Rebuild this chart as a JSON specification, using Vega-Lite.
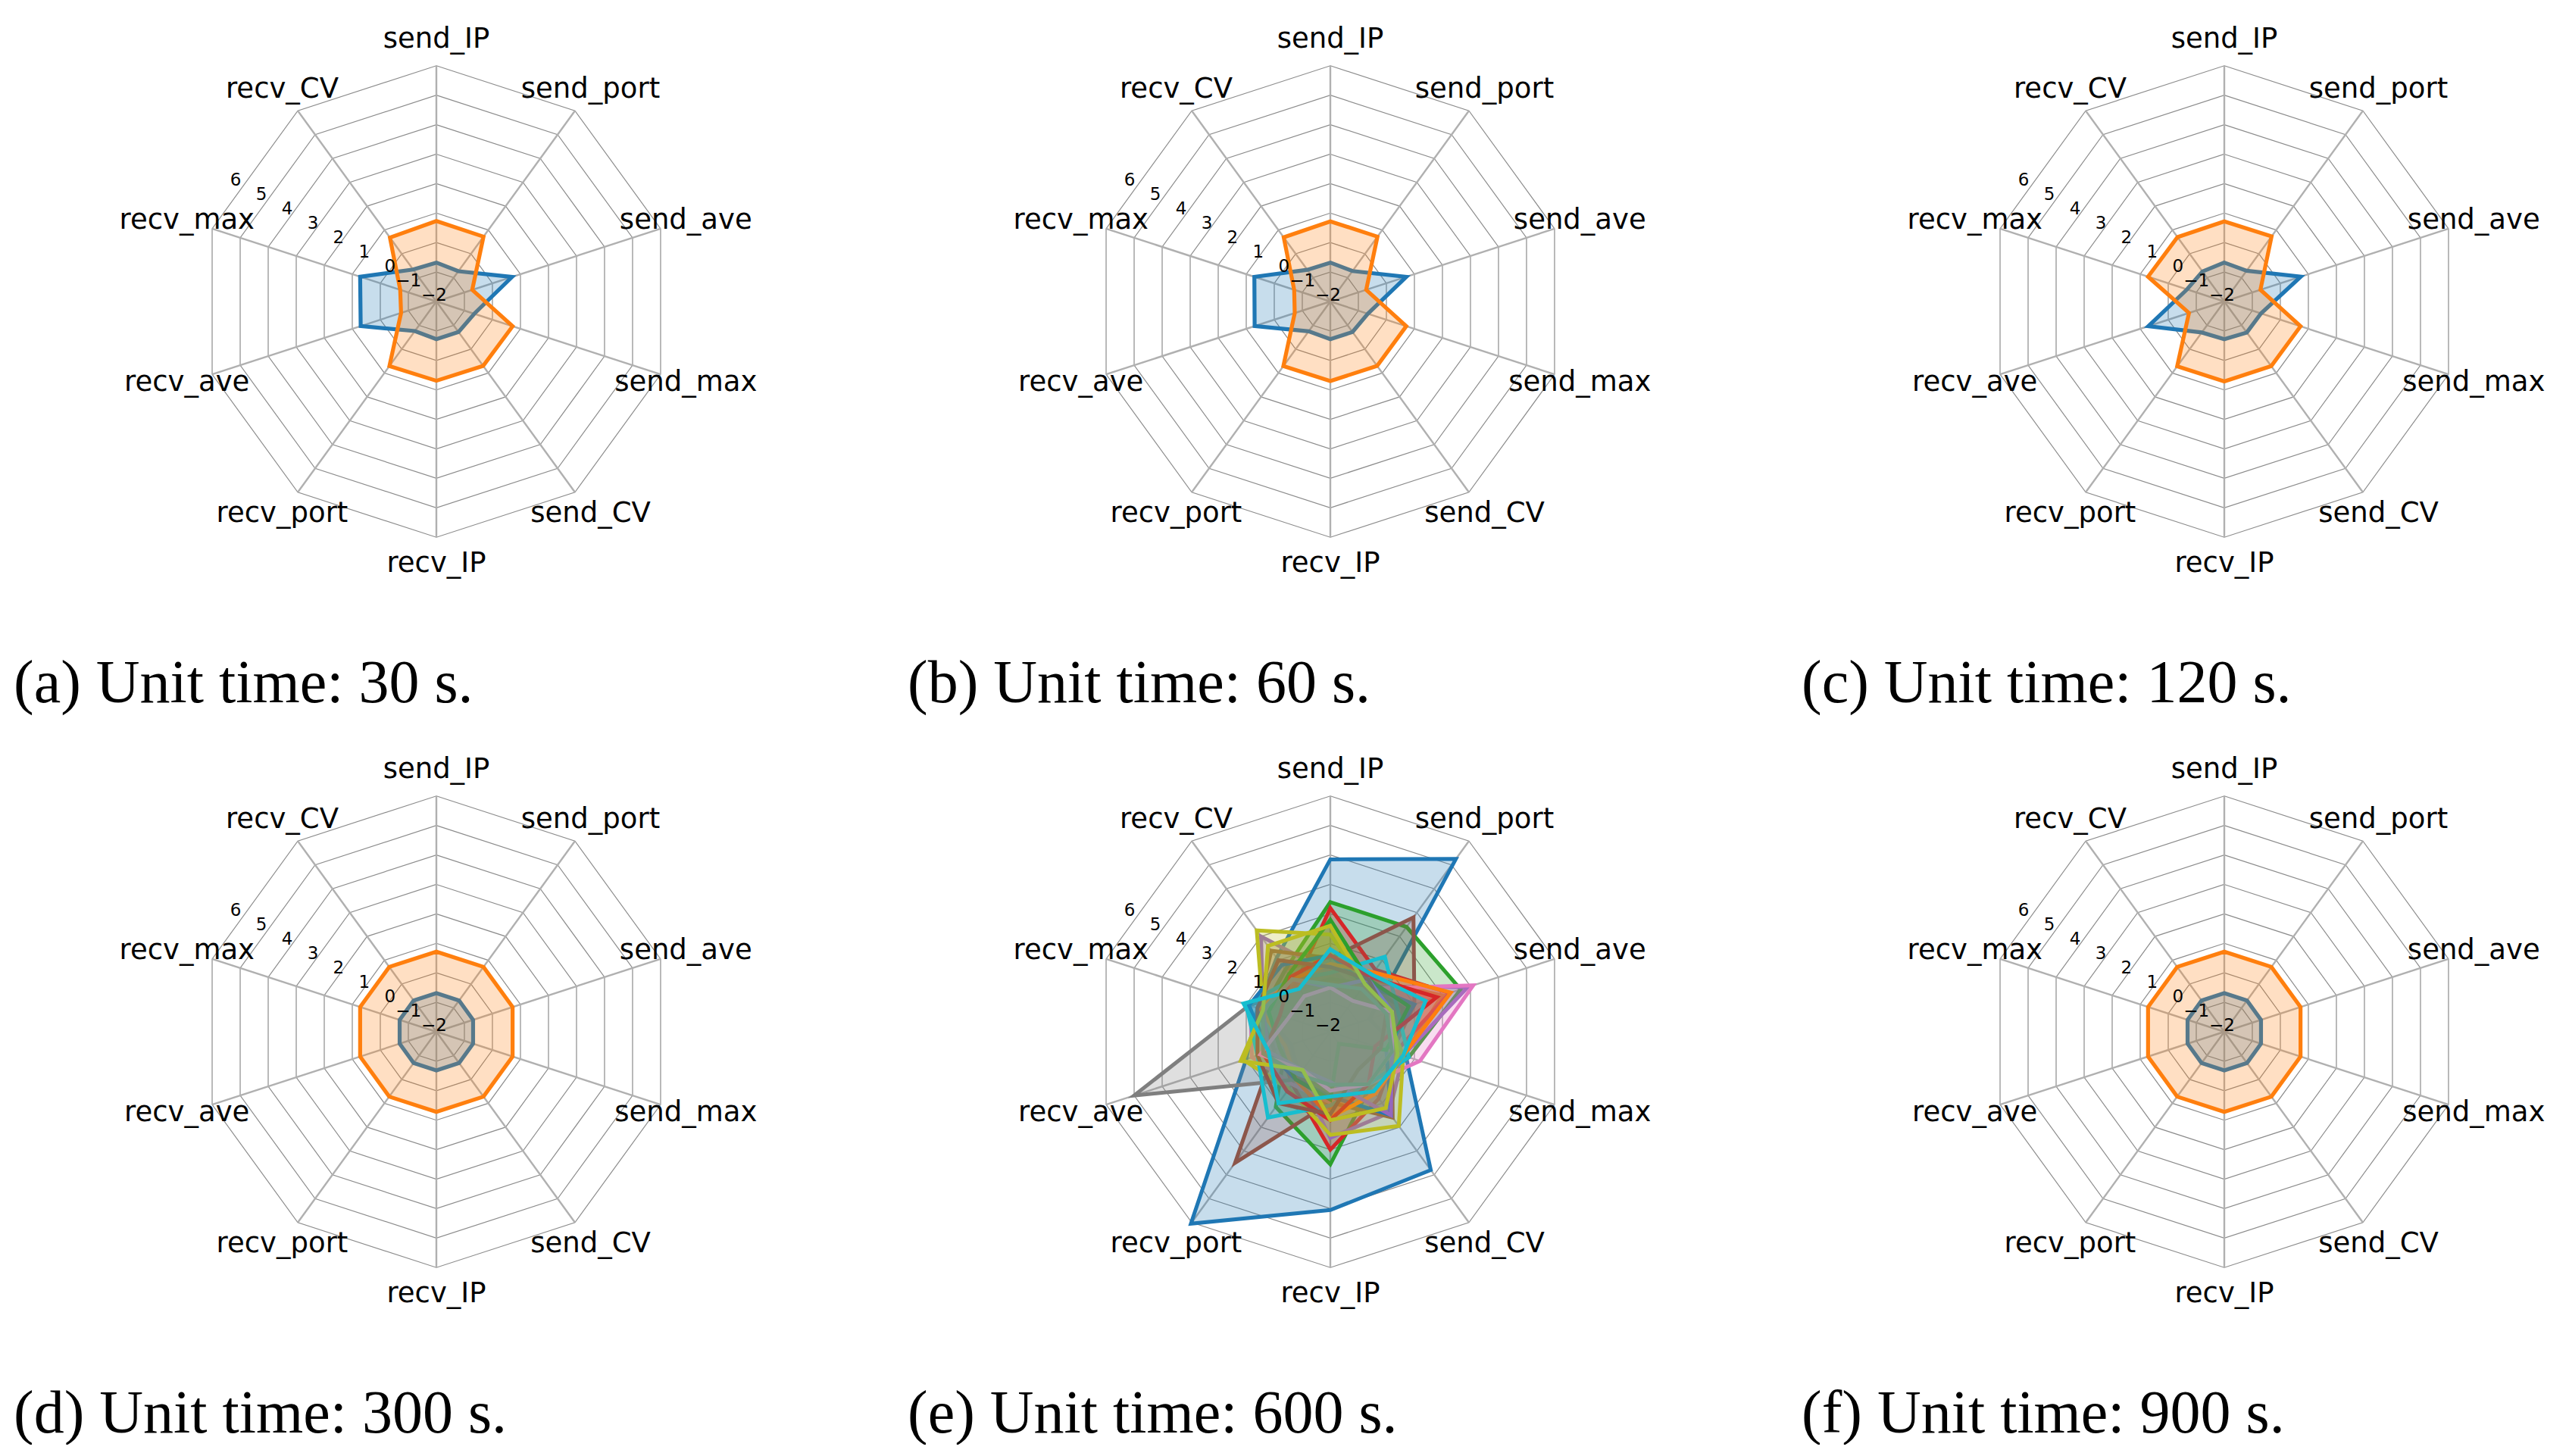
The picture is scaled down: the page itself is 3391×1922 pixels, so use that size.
{
"$schema": "https://vega.github.io/schema/vega-lite/v6.json",
"padding": 0,
"background": "white",
"config": {"view": {"stroke": null}},
"datasets": {
"axes": [
{"axis":"send_IP","lv":[-1,0,1,2,3,4,5,6]},
{"axis":"send_port","lv":[-1,0,1,2,3,4,5,6]},
{"axis":"send_ave","lv":[-1,0,1,2,3,4,5,6]},
{"axis":"send_max","lv":[-1,0,1,2,3,4,5,6]},
{"axis":"send_CV","lv":[-1,0,1,2,3,4,5,6]},
{"axis":"recv_IP","lv":[-1,0,1,2,3,4,5,6]},
{"axis":"recv_port","lv":[-1,0,1,2,3,4,5,6]},
{"axis":"recv_ave","lv":[-1,0,1,2,3,4,5,6]},
{"axis":"recv_max","lv":[-1,0,1,2,3,4,5,6]},
{"axis":"recv_CV","lv":[-1,0,1,2,3,4,5,6]}
],
"ticks": [
{"t":"−2","v":-2},{"t":"−1","v":-1},{"t":"0","v":0},{"t":"1","v":1},{"t":"2","v":2},{"t":"3","v":3},{"t":"4","v":4},{"t":"5","v":5},{"t":"6","v":6}
],
"polys": [
{"p":"a","s":0,"send_IP":-0.68,"send_port":-0.73,"send_ave":0.70,"send_max":-0.65,"send_CV":-0.72,"recv_IP":-0.72,"recv_port":-0.76,"recv_ave":0.70,"recv_max":0.72,"recv_CV":-0.66},
{"p":"a","s":1,"send_IP":0.73,"send_port":0.72,"send_ave":-0.72,"send_max":0.72,"send_CV":0.70,"recv_IP":0.69,"recv_port":0.71,"recv_ave":-0.74,"recv_max":-0.71,"recv_CV":0.68},
{"p":"b","s":0,"send_IP":-0.68,"send_port":-0.72,"send_ave":0.71,"send_max":-0.66,"send_CV":-0.72,"recv_IP":-0.72,"recv_port":-0.75,"recv_ave":0.70,"recv_max":0.71,"recv_CV":-0.67},
{"p":"b","s":1,"send_IP":0.72,"send_port":0.72,"send_ave":-0.72,"send_max":0.71,"send_CV":0.70,"recv_IP":0.70,"recv_port":0.71,"recv_ave":-0.73,"recv_max":-0.71,"recv_CV":0.69},
{"p":"c","s":0,"send_IP":-0.68,"send_port":-0.71,"send_ave":0.73,"send_max":-0.69,"send_CV":-0.70,"recv_IP":-0.72,"recv_port":-0.70,"recv_ave":0.71,"recv_max":-0.67,"recv_CV":-0.74},
{"p":"c","s":1,"send_IP":0.72,"send_port":0.73,"send_ave":-0.71,"send_max":0.72,"send_CV":0.71,"recv_IP":0.71,"recv_port":0.72,"recv_ave":-0.74,"recv_max":0.72,"recv_CV":0.70},
{"p":"d","s":0,"send_IP":-0.69,"send_port":-0.69,"send_ave":-0.69,"send_max":-0.69,"send_CV":-0.69,"recv_IP":-0.69,"recv_port":-0.69,"recv_ave":-0.69,"recv_max":-0.69,"recv_CV":-0.69},
{"p":"d","s":1,"send_IP":0.72,"send_port":0.72,"send_ave":0.72,"send_max":0.72,"send_CV":0.72,"recv_IP":0.72,"recv_port":0.72,"recv_ave":0.72,"recv_max":0.72,"recv_CV":0.72},
{"p":"f","s":0,"send_IP":-0.69,"send_port":-0.69,"send_ave":-0.69,"send_max":-0.69,"send_CV":-0.69,"recv_IP":-0.69,"recv_port":-0.69,"recv_ave":-0.69,"recv_max":-0.69,"recv_CV":-0.69},
{"p":"f","s":1,"send_IP":0.72,"send_port":0.72,"send_ave":0.72,"send_max":0.72,"send_CV":0.72,"recv_IP":0.72,"recv_port":0.72,"recv_ave":0.72,"recv_max":0.72,"recv_CV":0.72},
{"p":"e","s":0,"send_IP":3.85,"send_port":5.25,"send_ave":-0.6,"send_max":0.7,"send_CV":3.8,"recv_IP":4.05,"recv_port":6.05,"recv_ave":1.0,"recv_max":0.6,"recv_CV":1.1},
{"p":"e","s":1,"send_IP":0.6,"send_port":0.2,"send_ave":2.0,"send_max":0.6,"send_CV":0.0,"recv_IP":0.6,"recv_port":-0.2,"recv_ave":-0.5,"recv_max":0.4,"recv_CV":0.6},
{"p":"e","s":2,"send_IP":2.4,"send_port":2.4,"send_ave":2.65,"send_max":0.8,"send_CV":0.3,"recv_IP":2.5,"recv_port":1.15,"recv_ave":-0.4,"recv_max":0.4,"recv_CV":0.6},
{"p":"e","s":3,"send_IP":2.2,"send_port":0.6,"send_ave":2.25,"send_max":0.3,"send_CV":0.8,"recv_IP":2.0,"recv_port":0.2,"recv_ave":-0.2,"recv_max":0.2,"recv_CV":0.0},
{"p":"e","s":4,"send_IP":0.0,"send_port":-0.1,"send_ave":2.9,"send_max":0.6,"send_CV":1.4,"recv_IP":1.6,"recv_port":-0.2,"recv_ave":-0.6,"recv_max":0.4,"recv_CV":2.0},
{"p":"e","s":5,"send_IP":0.5,"send_port":2.8,"send_ave":1.0,"send_max":0.2,"send_CV":1.6,"recv_IP":0.4,"recv_port":3.5,"recv_ave":0.0,"recv_max":0.6,"recv_CV":1.4},
{"p":"e","s":6,"send_IP":0.3,"send_port":-0.2,"send_ave":3.1,"send_max":1.2,"send_CV":0.2,"recv_IP":0.4,"recv_port":0.2,"recv_ave":0.8,"recv_max":0.85,"recv_CV":0.2},
{"p":"e","s":7,"send_IP":-0.2,"send_port":0.0,"send_ave":0.6,"send_max":0.2,"send_CV":0.0,"recv_IP":-0.2,"recv_port":0.0,"recv_ave":5.0,"recv_max":0.9,"recv_CV":-0.2},
{"p":"e","s":8,"send_IP":1.3,"send_port":0.0,"send_ave":0.0,"send_max":0.6,"send_CV":1.95,"recv_IP":1.5,"recv_port":0.4,"recv_ave":1.1,"recv_max":0.4,"recv_CV":2.25},
{"p":"e","s":9,"send_IP":0.0,"send_port":1.15,"send_ave":0.4,"send_max":0.8,"send_CV":0.2,"recv_IP":0.5,"recv_port":1.6,"recv_ave":0.6,"recv_max":1.0,"recv_CV":0.2},
{"p":"e","s":10,"send_IP":0.6,"send_port":0.0,"send_ave":1.0,"send_max":0.0,"send_CV":1.5,"recv_IP":0.2,"recv_port":0.0,"recv_ave":0.2,"recv_max":0.9,"recv_CV":0.8},
{"p":"e","s":11,"send_IP":0.3,"send_port":0.5,"send_ave":2.3,"send_max":0.6,"send_CV":0.6,"recv_IP":0.9,"recv_port":0.0,"recv_ave":-0.4,"recv_max":0.5,"recv_CV":0.2},
{"p":"e","s":12,"send_IP":1.8,"send_port":0.2,"send_ave":0.8,"send_max":0.0,"send_CV":-1.5,"recv_IP":0.3,"recv_port":0.0,"recv_ave":-0.2,"recv_max":0.2,"recv_CV":0.4},
{"p":"e","s":13,"send_IP":0.6,"send_port":0.3,"send_ave":1.8,"send_max":-0.4,"send_CV":0.2,"recv_IP":1.0,"recv_port":0.5,"recv_ave":0.4,"recv_max":-0.2,"recv_CV":0.3},
{"p":"e","s":14,"send_IP":-0.5,"send_port":0.2,"send_ave":0.2,"send_max":0.2,"send_CV":1.5,"recv_IP":-0.3,"recv_port":-0.4,"recv_ave":0.2,"recv_max":0.4,"recv_CV":0.2},
{"p":"e","s":15,"send_IP":0.2,"send_port":0.2,"send_ave":0.0,"send_max":-0.2,"send_CV":-0.4,"recv_IP":0.8,"recv_port":1.0,"recv_ave":0.6,"recv_max":0.6,"recv_CV":1.0},
{"p":"e","s":16,"send_IP":-0.5,"send_port":-0.7,"send_ave":0.2,"send_max":0.2,"send_CV":0.2,"recv_IP":0.0,"recv_port":-0.4,"recv_ave":0.5,"recv_max":-0.5,"recv_CV":-0.5},
{"p":"e","s":17,"send_IP":-0.4,"send_port":-0.2,"send_ave":0.0,"send_max":0.2,"send_CV":0.2,"recv_IP":-0.2,"recv_port":-0.2,"recv_ave":0.4,"recv_max":0.4,"recv_CV":0.2},
{"p":"e","s":18,"send_IP":1.6,"send_port":0.0,"send_ave":0.2,"send_max":0.4,"send_CV":1.2,"recv_IP":1.0,"recv_port":-0.4,"recv_ave":1.2,"recv_max":0.4,"recv_CV":1.6},
{"p":"e","s":19,"send_IP":0.8,"send_port":0.4,"send_ave":1.4,"send_max":0.6,"send_CV":0.5,"recv_IP":0.2,"recv_port":1.0,"recv_ave":0.2,"recv_max":1.1,"recv_CV":-0.2}
]
},
"columns": 3,
"spacing": {"row": 164, "column": 180},
"bounds": "flush",
"concat": [
{"width":1000,"height":800,
"title":{"text":"(a) Unit time: 30 s.","orient":"bottom","anchor":"start","dx":18,"offset":127,"baseline":"alphabetic","font":"Liberation Serif","fontSize":80,"fontWeight":"normal","color":"black"},
"layer":[
{"data":{"name":"axes"},"transform":[{"flatten":["lv"],"as":["v"]},{"calculate":"indexof(['send_IP','send_port','send_ave','send_max','send_CV','recv_IP','recv_port','recv_ave','recv_max','recv_CV'], datum.axis)","as":"k"},{"calculate":"(datum.v+2)*sin(datum.k*PI/5)","as":"x"},{"calculate":"(datum.v+2)*cos(datum.k*PI/5)","as":"y"}],"mark":{"type":"line","interpolate":"linear-closed","stroke":"#8c8c8c","strokeWidth":1.2},"encoding":{"x":{"field":"x","type":"quantitative","scale":{"domain":[-14.807,10.9],"nice":false,"zero":false},"axis":null},"y":{"field":"y","type":"quantitative","scale":{"domain":[-10.334,10.231],"nice":false,"zero":false},"axis":null},"detail":{"field":"v","type":"nominal"},"order":{"field":"k","type":"quantitative"}}},
{"data":{"name":"axes"},"transform":[{"calculate":"indexof(['send_IP','send_port','send_ave','send_max','send_CV','recv_IP','recv_port','recv_ave','recv_max','recv_CV'], datum.axis)","as":"k"},{"calculate":"8*sin(datum.k*PI/5)","as":"x"},{"calculate":"8*cos(datum.k*PI/5)","as":"y"}],"mark":{"type":"rule","stroke":"#b0b0b0","strokeWidth":2.4},"encoding":{"x":{"field":"x","type":"quantitative"},"y":{"field":"y","type":"quantitative"},"x2":{"datum":0},"y2":{"datum":0}}},
{"data":{"name":"polys"},"transform":[{"filter":"datum.p == 'a'"},{"fold":["send_IP","send_port","send_ave","send_max","send_CV","recv_IP","recv_port","recv_ave","recv_max","recv_CV"],"as":["axis","v"]},{"calculate":"indexof(['send_IP','send_port','send_ave','send_max','send_CV','recv_IP','recv_port','recv_ave','recv_max','recv_CV'], datum.axis)","as":"k"},{"calculate":"(datum.v+2)*sin(datum.k*PI/5)","as":"x"},{"calculate":"(datum.v+2)*cos(datum.k*PI/5)","as":"y"}],"mark":{"type":"line","interpolate":"linear-closed","strokeWidth":5.2,"fillOpacity":0.25},"encoding":{"x":{"field":"x","type":"quantitative"},"y":{"field":"y","type":"quantitative"},"order":{"field":"k","type":"quantitative"},"stroke":{"field":"s","type":"nominal","scale":{"domain":[0,1,2,3,4,5,6,7,8,9,10,11,12,13,14,15,16,17,18,19],"range":["#1f77b4","#ff7f0e","#2ca02c","#d62728","#9467bd","#8c564b","#e377c2","#7f7f7f","#bcbd22","#17becf","#1f77b4","#ff7f0e","#2ca02c","#d62728","#9467bd","#8c564b","#e377c2","#7f7f7f","#bcbd22","#17becf"]},"legend":null},"fill":{"field":"s","type":"nominal","scale":{"domain":[0,1,2,3,4,5,6,7,8,9,10,11,12,13,14,15,16,17,18,19],"range":["#1f77b4","#ff7f0e","#2ca02c","#d62728","#9467bd","#8c564b","#e377c2","#7f7f7f","#bcbd22","#17becf","#1f77b4","#ff7f0e","#2ca02c","#d62728","#9467bd","#8c564b","#e377c2","#7f7f7f","#bcbd22","#17becf"]},"legend":null}}},
{"data":{"name":"axes"},"transform":[{"calculate":"indexof(['send_IP','send_port','send_ave','send_max','send_CV','recv_IP','recv_port','recv_ave','recv_max','recv_CV'], datum.axis)","as":"k"},{"calculate":"8.9*sin(datum.k*PI/5)","as":"x"},{"calculate":"8.9*cos(datum.k*PI/5)","as":"y"}],"mark":{"type":"text","font":"DejaVu Sans","fontSize":37,"align":"center","baseline":"middle","color":"black"},"encoding":{"x":{"field":"x","type":"quantitative"},"y":{"field":"y","type":"quantitative"},"text":{"field":"axis","type":"nominal"}}},
{"data":{"name":"ticks"},"transform":[{"calculate":"(datum.v+2)*cos(150.75*PI/180)","as":"x"},{"calculate":"(datum.v+2)*sin(150.75*PI/180)","as":"y"}],"mark":{"type":"text","font":"DejaVu Sans","fontSize":23,"align":"right","baseline":"middle","dx":14,"dy":-8,"color":"black"},"encoding":{"x":{"field":"x","type":"quantitative"},"y":{"field":"y","type":"quantitative"},"text":{"field":"t","type":"nominal"}}}
]},
{"width":1000,"height":800,
"title":{"text":"(b) Unit time: 60 s.","orient":"bottom","anchor":"start","dx":18,"offset":127,"baseline":"alphabetic","font":"Liberation Serif","fontSize":80,"fontWeight":"normal","color":"black"},
"layer":[
{"data":{"name":"axes"},"transform":[{"flatten":["lv"],"as":["v"]},{"calculate":"indexof(['send_IP','send_port','send_ave','send_max','send_CV','recv_IP','recv_port','recv_ave','recv_max','recv_CV'], datum.axis)","as":"k"},{"calculate":"(datum.v+2)*sin(datum.k*PI/5)","as":"x"},{"calculate":"(datum.v+2)*cos(datum.k*PI/5)","as":"y"}],"mark":{"type":"line","interpolate":"linear-closed","stroke":"#8c8c8c","strokeWidth":1.2},"encoding":{"x":{"field":"x","type":"quantitative","scale":{"domain":[-14.807,10.9],"nice":false,"zero":false},"axis":null},"y":{"field":"y","type":"quantitative","scale":{"domain":[-10.334,10.231],"nice":false,"zero":false},"axis":null},"detail":{"field":"v","type":"nominal"},"order":{"field":"k","type":"quantitative"}}},
{"data":{"name":"axes"},"transform":[{"calculate":"indexof(['send_IP','send_port','send_ave','send_max','send_CV','recv_IP','recv_port','recv_ave','recv_max','recv_CV'], datum.axis)","as":"k"},{"calculate":"8*sin(datum.k*PI/5)","as":"x"},{"calculate":"8*cos(datum.k*PI/5)","as":"y"}],"mark":{"type":"rule","stroke":"#b0b0b0","strokeWidth":2.4},"encoding":{"x":{"field":"x","type":"quantitative"},"y":{"field":"y","type":"quantitative"},"x2":{"datum":0},"y2":{"datum":0}}},
{"data":{"name":"polys"},"transform":[{"filter":"datum.p == 'b'"},{"fold":["send_IP","send_port","send_ave","send_max","send_CV","recv_IP","recv_port","recv_ave","recv_max","recv_CV"],"as":["axis","v"]},{"calculate":"indexof(['send_IP','send_port','send_ave','send_max','send_CV','recv_IP','recv_port','recv_ave','recv_max','recv_CV'], datum.axis)","as":"k"},{"calculate":"(datum.v+2)*sin(datum.k*PI/5)","as":"x"},{"calculate":"(datum.v+2)*cos(datum.k*PI/5)","as":"y"}],"mark":{"type":"line","interpolate":"linear-closed","strokeWidth":5.2,"fillOpacity":0.25},"encoding":{"x":{"field":"x","type":"quantitative"},"y":{"field":"y","type":"quantitative"},"order":{"field":"k","type":"quantitative"},"stroke":{"field":"s","type":"nominal","scale":{"domain":[0,1,2,3,4,5,6,7,8,9,10,11,12,13,14,15,16,17,18,19],"range":["#1f77b4","#ff7f0e","#2ca02c","#d62728","#9467bd","#8c564b","#e377c2","#7f7f7f","#bcbd22","#17becf","#1f77b4","#ff7f0e","#2ca02c","#d62728","#9467bd","#8c564b","#e377c2","#7f7f7f","#bcbd22","#17becf"]},"legend":null},"fill":{"field":"s","type":"nominal","scale":{"domain":[0,1,2,3,4,5,6,7,8,9,10,11,12,13,14,15,16,17,18,19],"range":["#1f77b4","#ff7f0e","#2ca02c","#d62728","#9467bd","#8c564b","#e377c2","#7f7f7f","#bcbd22","#17becf","#1f77b4","#ff7f0e","#2ca02c","#d62728","#9467bd","#8c564b","#e377c2","#7f7f7f","#bcbd22","#17becf"]},"legend":null}}},
{"data":{"name":"axes"},"transform":[{"calculate":"indexof(['send_IP','send_port','send_ave','send_max','send_CV','recv_IP','recv_port','recv_ave','recv_max','recv_CV'], datum.axis)","as":"k"},{"calculate":"8.9*sin(datum.k*PI/5)","as":"x"},{"calculate":"8.9*cos(datum.k*PI/5)","as":"y"}],"mark":{"type":"text","font":"DejaVu Sans","fontSize":37,"align":"center","baseline":"middle","color":"black"},"encoding":{"x":{"field":"x","type":"quantitative"},"y":{"field":"y","type":"quantitative"},"text":{"field":"axis","type":"nominal"}}},
{"data":{"name":"ticks"},"transform":[{"calculate":"(datum.v+2)*cos(150.75*PI/180)","as":"x"},{"calculate":"(datum.v+2)*sin(150.75*PI/180)","as":"y"}],"mark":{"type":"text","font":"DejaVu Sans","fontSize":23,"align":"right","baseline":"middle","dx":14,"dy":-8,"color":"black"},"encoding":{"x":{"field":"x","type":"quantitative"},"y":{"field":"y","type":"quantitative"},"text":{"field":"t","type":"nominal"}}}
]},
{"width":1000,"height":800,
"title":{"text":"(c) Unit time: 120 s.","orient":"bottom","anchor":"start","dx":18,"offset":127,"baseline":"alphabetic","font":"Liberation Serif","fontSize":80,"fontWeight":"normal","color":"black"},
"layer":[
{"data":{"name":"axes"},"transform":[{"flatten":["lv"],"as":["v"]},{"calculate":"indexof(['send_IP','send_port','send_ave','send_max','send_CV','recv_IP','recv_port','recv_ave','recv_max','recv_CV'], datum.axis)","as":"k"},{"calculate":"(datum.v+2)*sin(datum.k*PI/5)","as":"x"},{"calculate":"(datum.v+2)*cos(datum.k*PI/5)","as":"y"}],"mark":{"type":"line","interpolate":"linear-closed","stroke":"#8c8c8c","strokeWidth":1.2},"encoding":{"x":{"field":"x","type":"quantitative","scale":{"domain":[-14.807,10.9],"nice":false,"zero":false},"axis":null},"y":{"field":"y","type":"quantitative","scale":{"domain":[-10.334,10.231],"nice":false,"zero":false},"axis":null},"detail":{"field":"v","type":"nominal"},"order":{"field":"k","type":"quantitative"}}},
{"data":{"name":"axes"},"transform":[{"calculate":"indexof(['send_IP','send_port','send_ave','send_max','send_CV','recv_IP','recv_port','recv_ave','recv_max','recv_CV'], datum.axis)","as":"k"},{"calculate":"8*sin(datum.k*PI/5)","as":"x"},{"calculate":"8*cos(datum.k*PI/5)","as":"y"}],"mark":{"type":"rule","stroke":"#b0b0b0","strokeWidth":2.4},"encoding":{"x":{"field":"x","type":"quantitative"},"y":{"field":"y","type":"quantitative"},"x2":{"datum":0},"y2":{"datum":0}}},
{"data":{"name":"polys"},"transform":[{"filter":"datum.p == 'c'"},{"fold":["send_IP","send_port","send_ave","send_max","send_CV","recv_IP","recv_port","recv_ave","recv_max","recv_CV"],"as":["axis","v"]},{"calculate":"indexof(['send_IP','send_port','send_ave','send_max','send_CV','recv_IP','recv_port','recv_ave','recv_max','recv_CV'], datum.axis)","as":"k"},{"calculate":"(datum.v+2)*sin(datum.k*PI/5)","as":"x"},{"calculate":"(datum.v+2)*cos(datum.k*PI/5)","as":"y"}],"mark":{"type":"line","interpolate":"linear-closed","strokeWidth":5.2,"fillOpacity":0.25},"encoding":{"x":{"field":"x","type":"quantitative"},"y":{"field":"y","type":"quantitative"},"order":{"field":"k","type":"quantitative"},"stroke":{"field":"s","type":"nominal","scale":{"domain":[0,1,2,3,4,5,6,7,8,9,10,11,12,13,14,15,16,17,18,19],"range":["#1f77b4","#ff7f0e","#2ca02c","#d62728","#9467bd","#8c564b","#e377c2","#7f7f7f","#bcbd22","#17becf","#1f77b4","#ff7f0e","#2ca02c","#d62728","#9467bd","#8c564b","#e377c2","#7f7f7f","#bcbd22","#17becf"]},"legend":null},"fill":{"field":"s","type":"nominal","scale":{"domain":[0,1,2,3,4,5,6,7,8,9,10,11,12,13,14,15,16,17,18,19],"range":["#1f77b4","#ff7f0e","#2ca02c","#d62728","#9467bd","#8c564b","#e377c2","#7f7f7f","#bcbd22","#17becf","#1f77b4","#ff7f0e","#2ca02c","#d62728","#9467bd","#8c564b","#e377c2","#7f7f7f","#bcbd22","#17becf"]},"legend":null}}},
{"data":{"name":"axes"},"transform":[{"calculate":"indexof(['send_IP','send_port','send_ave','send_max','send_CV','recv_IP','recv_port','recv_ave','recv_max','recv_CV'], datum.axis)","as":"k"},{"calculate":"8.9*sin(datum.k*PI/5)","as":"x"},{"calculate":"8.9*cos(datum.k*PI/5)","as":"y"}],"mark":{"type":"text","font":"DejaVu Sans","fontSize":37,"align":"center","baseline":"middle","color":"black"},"encoding":{"x":{"field":"x","type":"quantitative"},"y":{"field":"y","type":"quantitative"},"text":{"field":"axis","type":"nominal"}}},
{"data":{"name":"ticks"},"transform":[{"calculate":"(datum.v+2)*cos(150.75*PI/180)","as":"x"},{"calculate":"(datum.v+2)*sin(150.75*PI/180)","as":"y"}],"mark":{"type":"text","font":"DejaVu Sans","fontSize":23,"align":"right","baseline":"middle","dx":14,"dy":-8,"color":"black"},"encoding":{"x":{"field":"x","type":"quantitative"},"y":{"field":"y","type":"quantitative"},"text":{"field":"t","type":"nominal"}}}
]},
{"width":1000,"height":800,
"title":{"text":"(d) Unit time: 300 s.","orient":"bottom","anchor":"start","dx":18,"offset":127,"baseline":"alphabetic","font":"Liberation Serif","fontSize":80,"fontWeight":"normal","color":"black"},
"layer":[
{"data":{"name":"axes"},"transform":[{"flatten":["lv"],"as":["v"]},{"calculate":"indexof(['send_IP','send_port','send_ave','send_max','send_CV','recv_IP','recv_port','recv_ave','recv_max','recv_CV'], datum.axis)","as":"k"},{"calculate":"(datum.v+2)*sin(datum.k*PI/5)","as":"x"},{"calculate":"(datum.v+2)*cos(datum.k*PI/5)","as":"y"}],"mark":{"type":"line","interpolate":"linear-closed","stroke":"#8c8c8c","strokeWidth":1.2},"encoding":{"x":{"field":"x","type":"quantitative","scale":{"domain":[-14.807,10.9],"nice":false,"zero":false},"axis":null},"y":{"field":"y","type":"quantitative","scale":{"domain":[-10.334,10.231],"nice":false,"zero":false},"axis":null},"detail":{"field":"v","type":"nominal"},"order":{"field":"k","type":"quantitative"}}},
{"data":{"name":"axes"},"transform":[{"calculate":"indexof(['send_IP','send_port','send_ave','send_max','send_CV','recv_IP','recv_port','recv_ave','recv_max','recv_CV'], datum.axis)","as":"k"},{"calculate":"8*sin(datum.k*PI/5)","as":"x"},{"calculate":"8*cos(datum.k*PI/5)","as":"y"}],"mark":{"type":"rule","stroke":"#b0b0b0","strokeWidth":2.4},"encoding":{"x":{"field":"x","type":"quantitative"},"y":{"field":"y","type":"quantitative"},"x2":{"datum":0},"y2":{"datum":0}}},
{"data":{"name":"polys"},"transform":[{"filter":"datum.p == 'd'"},{"fold":["send_IP","send_port","send_ave","send_max","send_CV","recv_IP","recv_port","recv_ave","recv_max","recv_CV"],"as":["axis","v"]},{"calculate":"indexof(['send_IP','send_port','send_ave','send_max','send_CV','recv_IP','recv_port','recv_ave','recv_max','recv_CV'], datum.axis)","as":"k"},{"calculate":"(datum.v+2)*sin(datum.k*PI/5)","as":"x"},{"calculate":"(datum.v+2)*cos(datum.k*PI/5)","as":"y"}],"mark":{"type":"line","interpolate":"linear-closed","strokeWidth":5.2,"fillOpacity":0.25},"encoding":{"x":{"field":"x","type":"quantitative"},"y":{"field":"y","type":"quantitative"},"order":{"field":"k","type":"quantitative"},"stroke":{"field":"s","type":"nominal","scale":{"domain":[0,1,2,3,4,5,6,7,8,9,10,11,12,13,14,15,16,17,18,19],"range":["#1f77b4","#ff7f0e","#2ca02c","#d62728","#9467bd","#8c564b","#e377c2","#7f7f7f","#bcbd22","#17becf","#1f77b4","#ff7f0e","#2ca02c","#d62728","#9467bd","#8c564b","#e377c2","#7f7f7f","#bcbd22","#17becf"]},"legend":null},"fill":{"field":"s","type":"nominal","scale":{"domain":[0,1,2,3,4,5,6,7,8,9,10,11,12,13,14,15,16,17,18,19],"range":["#1f77b4","#ff7f0e","#2ca02c","#d62728","#9467bd","#8c564b","#e377c2","#7f7f7f","#bcbd22","#17becf","#1f77b4","#ff7f0e","#2ca02c","#d62728","#9467bd","#8c564b","#e377c2","#7f7f7f","#bcbd22","#17becf"]},"legend":null}}},
{"data":{"name":"axes"},"transform":[{"calculate":"indexof(['send_IP','send_port','send_ave','send_max','send_CV','recv_IP','recv_port','recv_ave','recv_max','recv_CV'], datum.axis)","as":"k"},{"calculate":"8.9*sin(datum.k*PI/5)","as":"x"},{"calculate":"8.9*cos(datum.k*PI/5)","as":"y"}],"mark":{"type":"text","font":"DejaVu Sans","fontSize":37,"align":"center","baseline":"middle","color":"black"},"encoding":{"x":{"field":"x","type":"quantitative"},"y":{"field":"y","type":"quantitative"},"text":{"field":"axis","type":"nominal"}}},
{"data":{"name":"ticks"},"transform":[{"calculate":"(datum.v+2)*cos(150.75*PI/180)","as":"x"},{"calculate":"(datum.v+2)*sin(150.75*PI/180)","as":"y"}],"mark":{"type":"text","font":"DejaVu Sans","fontSize":23,"align":"right","baseline":"middle","dx":14,"dy":-8,"color":"black"},"encoding":{"x":{"field":"x","type":"quantitative"},"y":{"field":"y","type":"quantitative"},"text":{"field":"t","type":"nominal"}}}
]},
{"width":1000,"height":800,
"title":{"text":"(e) Unit time: 600 s.","orient":"bottom","anchor":"start","dx":18,"offset":127,"baseline":"alphabetic","font":"Liberation Serif","fontSize":80,"fontWeight":"normal","color":"black"},
"layer":[
{"data":{"name":"axes"},"transform":[{"flatten":["lv"],"as":["v"]},{"calculate":"indexof(['send_IP','send_port','send_ave','send_max','send_CV','recv_IP','recv_port','recv_ave','recv_max','recv_CV'], datum.axis)","as":"k"},{"calculate":"(datum.v+2)*sin(datum.k*PI/5)","as":"x"},{"calculate":"(datum.v+2)*cos(datum.k*PI/5)","as":"y"}],"mark":{"type":"line","interpolate":"linear-closed","stroke":"#8c8c8c","strokeWidth":1.2},"encoding":{"x":{"field":"x","type":"quantitative","scale":{"domain":[-14.807,10.9],"nice":false,"zero":false},"axis":null},"y":{"field":"y","type":"quantitative","scale":{"domain":[-10.334,10.231],"nice":false,"zero":false},"axis":null},"detail":{"field":"v","type":"nominal"},"order":{"field":"k","type":"quantitative"}}},
{"data":{"name":"axes"},"transform":[{"calculate":"indexof(['send_IP','send_port','send_ave','send_max','send_CV','recv_IP','recv_port','recv_ave','recv_max','recv_CV'], datum.axis)","as":"k"},{"calculate":"8*sin(datum.k*PI/5)","as":"x"},{"calculate":"8*cos(datum.k*PI/5)","as":"y"}],"mark":{"type":"rule","stroke":"#b0b0b0","strokeWidth":2.4},"encoding":{"x":{"field":"x","type":"quantitative"},"y":{"field":"y","type":"quantitative"},"x2":{"datum":0},"y2":{"datum":0}}},
{"data":{"name":"polys"},"transform":[{"filter":"datum.p == 'e'"},{"fold":["send_IP","send_port","send_ave","send_max","send_CV","recv_IP","recv_port","recv_ave","recv_max","recv_CV"],"as":["axis","v"]},{"calculate":"indexof(['send_IP','send_port','send_ave','send_max','send_CV','recv_IP','recv_port','recv_ave','recv_max','recv_CV'], datum.axis)","as":"k"},{"calculate":"(datum.v+2)*sin(datum.k*PI/5)","as":"x"},{"calculate":"(datum.v+2)*cos(datum.k*PI/5)","as":"y"}],"mark":{"type":"line","interpolate":"linear-closed","strokeWidth":5,"fillOpacity":0.25},"encoding":{"x":{"field":"x","type":"quantitative"},"y":{"field":"y","type":"quantitative"},"order":{"field":"k","type":"quantitative"},"stroke":{"field":"s","type":"nominal","scale":{"domain":[0,1,2,3,4,5,6,7,8,9,10,11,12,13,14,15,16,17,18,19],"range":["#1f77b4","#ff7f0e","#2ca02c","#d62728","#9467bd","#8c564b","#e377c2","#7f7f7f","#bcbd22","#17becf","#1f77b4","#ff7f0e","#2ca02c","#d62728","#9467bd","#8c564b","#e377c2","#7f7f7f","#bcbd22","#17becf"]},"legend":null},"fill":{"field":"s","type":"nominal","scale":{"domain":[0,1,2,3,4,5,6,7,8,9,10,11,12,13,14,15,16,17,18,19],"range":["#1f77b4","#ff7f0e","#2ca02c","#d62728","#9467bd","#8c564b","#e377c2","#7f7f7f","#bcbd22","#17becf","#1f77b4","#ff7f0e","#2ca02c","#d62728","#9467bd","#8c564b","#e377c2","#7f7f7f","#bcbd22","#17becf"]},"legend":null}}},
{"data":{"name":"axes"},"transform":[{"calculate":"indexof(['send_IP','send_port','send_ave','send_max','send_CV','recv_IP','recv_port','recv_ave','recv_max','recv_CV'], datum.axis)","as":"k"},{"calculate":"8.9*sin(datum.k*PI/5)","as":"x"},{"calculate":"8.9*cos(datum.k*PI/5)","as":"y"}],"mark":{"type":"text","font":"DejaVu Sans","fontSize":37,"align":"center","baseline":"middle","color":"black"},"encoding":{"x":{"field":"x","type":"quantitative"},"y":{"field":"y","type":"quantitative"},"text":{"field":"axis","type":"nominal"}}},
{"data":{"name":"ticks"},"transform":[{"calculate":"(datum.v+2)*cos(150.75*PI/180)","as":"x"},{"calculate":"(datum.v+2)*sin(150.75*PI/180)","as":"y"}],"mark":{"type":"text","font":"DejaVu Sans","fontSize":23,"align":"right","baseline":"middle","dx":14,"dy":-8,"color":"black"},"encoding":{"x":{"field":"x","type":"quantitative"},"y":{"field":"y","type":"quantitative"},"text":{"field":"t","type":"nominal"}}}
]},
{"width":1000,"height":800,
"title":{"text":"(f) Unit time: 900 s.","orient":"bottom","anchor":"start","dx":18,"offset":127,"baseline":"alphabetic","font":"Liberation Serif","fontSize":80,"fontWeight":"normal","color":"black"},
"layer":[
{"data":{"name":"axes"},"transform":[{"flatten":["lv"],"as":["v"]},{"calculate":"indexof(['send_IP','send_port','send_ave','send_max','send_CV','recv_IP','recv_port','recv_ave','recv_max','recv_CV'], datum.axis)","as":"k"},{"calculate":"(datum.v+2)*sin(datum.k*PI/5)","as":"x"},{"calculate":"(datum.v+2)*cos(datum.k*PI/5)","as":"y"}],"mark":{"type":"line","interpolate":"linear-closed","stroke":"#8c8c8c","strokeWidth":1.2},"encoding":{"x":{"field":"x","type":"quantitative","scale":{"domain":[-14.807,10.9],"nice":false,"zero":false},"axis":null},"y":{"field":"y","type":"quantitative","scale":{"domain":[-10.334,10.231],"nice":false,"zero":false},"axis":null},"detail":{"field":"v","type":"nominal"},"order":{"field":"k","type":"quantitative"}}},
{"data":{"name":"axes"},"transform":[{"calculate":"indexof(['send_IP','send_port','send_ave','send_max','send_CV','recv_IP','recv_port','recv_ave','recv_max','recv_CV'], datum.axis)","as":"k"},{"calculate":"8*sin(datum.k*PI/5)","as":"x"},{"calculate":"8*cos(datum.k*PI/5)","as":"y"}],"mark":{"type":"rule","stroke":"#b0b0b0","strokeWidth":2.4},"encoding":{"x":{"field":"x","type":"quantitative"},"y":{"field":"y","type":"quantitative"},"x2":{"datum":0},"y2":{"datum":0}}},
{"data":{"name":"polys"},"transform":[{"filter":"datum.p == 'f'"},{"fold":["send_IP","send_port","send_ave","send_max","send_CV","recv_IP","recv_port","recv_ave","recv_max","recv_CV"],"as":["axis","v"]},{"calculate":"indexof(['send_IP','send_port','send_ave','send_max','send_CV','recv_IP','recv_port','recv_ave','recv_max','recv_CV'], datum.axis)","as":"k"},{"calculate":"(datum.v+2)*sin(datum.k*PI/5)","as":"x"},{"calculate":"(datum.v+2)*cos(datum.k*PI/5)","as":"y"}],"mark":{"type":"line","interpolate":"linear-closed","strokeWidth":5.2,"fillOpacity":0.25},"encoding":{"x":{"field":"x","type":"quantitative"},"y":{"field":"y","type":"quantitative"},"order":{"field":"k","type":"quantitative"},"stroke":{"field":"s","type":"nominal","scale":{"domain":[0,1,2,3,4,5,6,7,8,9,10,11,12,13,14,15,16,17,18,19],"range":["#1f77b4","#ff7f0e","#2ca02c","#d62728","#9467bd","#8c564b","#e377c2","#7f7f7f","#bcbd22","#17becf","#1f77b4","#ff7f0e","#2ca02c","#d62728","#9467bd","#8c564b","#e377c2","#7f7f7f","#bcbd22","#17becf"]},"legend":null},"fill":{"field":"s","type":"nominal","scale":{"domain":[0,1,2,3,4,5,6,7,8,9,10,11,12,13,14,15,16,17,18,19],"range":["#1f77b4","#ff7f0e","#2ca02c","#d62728","#9467bd","#8c564b","#e377c2","#7f7f7f","#bcbd22","#17becf","#1f77b4","#ff7f0e","#2ca02c","#d62728","#9467bd","#8c564b","#e377c2","#7f7f7f","#bcbd22","#17becf"]},"legend":null}}},
{"data":{"name":"axes"},"transform":[{"calculate":"indexof(['send_IP','send_port','send_ave','send_max','send_CV','recv_IP','recv_port','recv_ave','recv_max','recv_CV'], datum.axis)","as":"k"},{"calculate":"8.9*sin(datum.k*PI/5)","as":"x"},{"calculate":"8.9*cos(datum.k*PI/5)","as":"y"}],"mark":{"type":"text","font":"DejaVu Sans","fontSize":37,"align":"center","baseline":"middle","color":"black"},"encoding":{"x":{"field":"x","type":"quantitative"},"y":{"field":"y","type":"quantitative"},"text":{"field":"axis","type":"nominal"}}},
{"data":{"name":"ticks"},"transform":[{"calculate":"(datum.v+2)*cos(150.75*PI/180)","as":"x"},{"calculate":"(datum.v+2)*sin(150.75*PI/180)","as":"y"}],"mark":{"type":"text","font":"DejaVu Sans","fontSize":23,"align":"right","baseline":"middle","dx":14,"dy":-8,"color":"black"},"encoding":{"x":{"field":"x","type":"quantitative"},"y":{"field":"y","type":"quantitative"},"text":{"field":"t","type":"nominal"}}}
]}
]
}
